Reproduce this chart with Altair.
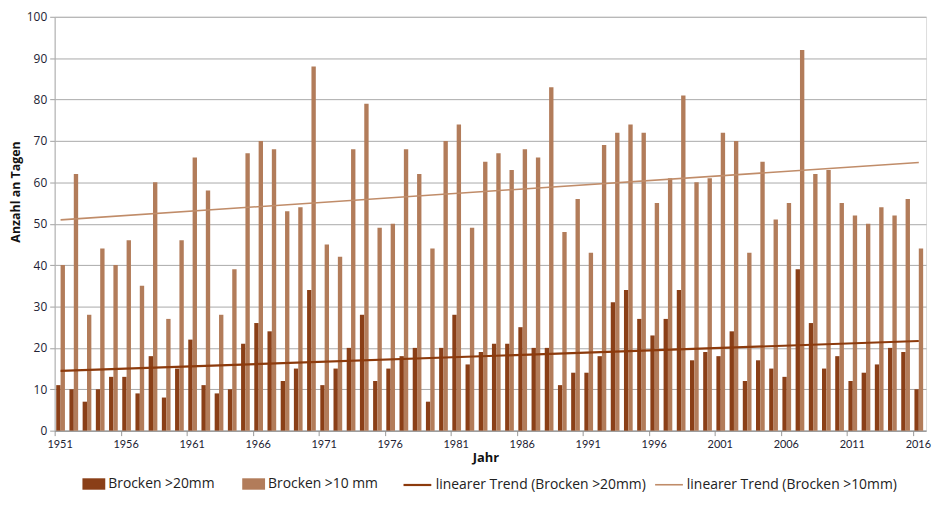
import altair as alt
import pandas as pd

years = list(range(1951, 2017))

over20 = [11, 10, 7, 10, 13, 13, 9, 18, 8, 15,
          22, 11, 9, 10, 21, 26, 24, 12, 15, 34,
          11, 15, 20, 28, 12, 15, 18, 20, 7, 20,
          28, 16, 19, 21, 21, 25, 20, 20, 11, 14,
          14, 18, 31, 34, 27, 23, 27, 34, 17, 19,
          18, 24, 12, 17, 15, 13, 39, 26, 15, 18,
          12, 14, 16, 20, 19, 10]

over10 = [40, 62, 28, 44, 40, 46, 35, 60, 27, 46,
          66, 58, 28, 39, 67, 70, 68, 53, 54, 88,
          45, 42, 68, 79, 49, 50, 68, 62, 44, 70,
          74, 49, 65, 67, 63, 68, 66, 83, 48, 56,
          43, 69, 72, 74, 72, 55, 61, 81, 60, 61,
          72, 70, 43, 65, 51, 55, 92, 62, 63, 55,
          52, 50, 54, 52, 56, 44]

S20 = "Brocken >20mm"
S10 = "Brocken >10 mm"
T20 = "linearer Trend (Brocken >20mm)"
T10 = "linearer Trend (Brocken >10mm)"

DARK = "#8a3f17"
LIGHT = "#b27c5a"
TDARK = "#8c3a0c"
TLIGHT = "#c08c69"

n = len(years)
df = pd.DataFrame({
    "Jahr": years * 2,
    "Tage": over20 + over10,
    "Reihe": [S20] * n + [S10] * n,
    "Trend": [T20] * n + [T10] * n,
})

FONT = "Open Sans"
xscale = alt.Scale(domain=[1951, 2017], nice=False, zero=False)
yscale = alt.Scale(domain=[0, 100], nice=False)

base = alt.Chart(df)

bars = base.transform_calculate(
    x0="datum.Jahr + (datum.Reihe == '%s' ? 0.12 : 0.45)" % S20,
    x1="datum.Jahr + (datum.Reihe == '%s' ? 0.45 : 0.78)" % S20,
).mark_bar(strokeWidth=0).encode(
    x=alt.X("x0:Q", scale=xscale,
            axis=alt.Axis(values=list(range(1951, 2017, 5)), format="d", title="Jahr",
                          grid=False, tickSize=5, tickColor="#999999", domainColor="#8a8a8a",
                          labelPadding=3, labelOffset=5, labelFont="Liberation Sans Narrow, Lato",
                          labelFontSize=11, labelColor="#222233", titleFont=FONT,
                          titleFontSize=13, titleFontWeight="bold", titleColor="#111111",
                          titlePadding=2, labelFlush=False, titleX=434, titleAlign="center")),
    x2="x1:Q",
    y=alt.Y("Tage:Q", scale=yscale,
            axis=alt.Axis(values=list(range(0, 101, 10)), title="Anzahl an Tagen",
                          grid=True, gridColor="#a9a9a9", gridWidth=1, tickSize=5,
                          tickColor="#a0a0a0", domainColor="#b0b0b0", labelPadding=3,
                          labelFont=FONT, labelFontSize=12, labelColor="#222233",
                          titleFont=FONT, titleFontSize=12.5, titleFontWeight="bold",
                          titleColor="#111111", titleX=-35, titleY=176,
                          titleBaseline="alphabetic", titleAlign="center")),
    y2=alt.datum(0),
    fill=alt.Fill("Reihe:N", scale=alt.Scale(domain=[S20, S10], range=[DARK, LIGHT]),
                  legend=alt.Legend(orient="none", legendX=28, legendY=459,
                                    direction="horizontal", title=None,
                                    symbolType="M-1,-0.5H1V0.5H-1Z", symbolSize=529,
                                    symbolStrokeWidth=0, labelFont=FONT, labelFontSize=14,
                                    labelColor="#222222", columnPadding=27, labelOffset=3,
                                    padding=0, labelLimit=300)),
)

trend = base.transform_calculate(
    xm="datum.Jahr + 0.45"
).transform_regression(
    "xm", "Tage", groupby=["Trend"], extent=[1951.45, 2016.45]
).mark_line().encode(
    x=alt.X("xm:Q", scale=xscale, title="Jahr"),
    y=alt.Y("Tage:Q", scale=yscale, title="Anzahl an Tagen"),
    stroke=alt.Stroke("Trend:N", scale=alt.Scale(domain=[T20, T10], range=[TDARK, TLIGHT]),
                      legend=alt.Legend(orient="none", legendX=350, legendY=456,
                                        direction="horizontal", title=None,
                                        symbolType="stroke", symbolSize=784,
                                        symbolStrokeWidth=3, labelFont=FONT, labelFontSize=14,
                                        labelColor="#222222", columnPadding=5, labelOffset=3,
                                        padding=0, labelLimit=300)),
    strokeWidth=alt.StrokeWidth("Trend:N", scale=alt.Scale(domain=[T20, T10], range=[2.2, 1.6]),
                                legend=None),
)

chart = alt.layer(bars, trend).properties(
    width=878, height=417,
    autosize=alt.AutoSizeParams(type="none"),
    padding={"left": 47, "top": 7, "right": 8, "bottom": 65},
).configure_view(
    fill="#f4f4f4", stroke="#8c8c8c", strokeWidth=1.5
).configure(background="white")

chart.save("out.html", embed_options={"renderer": "svg", "actions": False})
